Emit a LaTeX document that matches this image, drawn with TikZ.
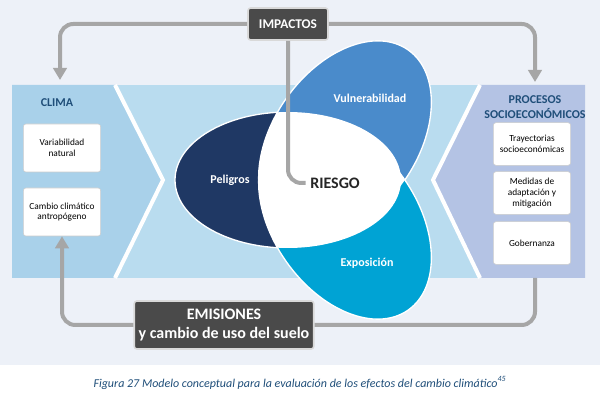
\documentclass[tikz,border=0pt]{standalone}
\usepackage{fontspec}
\setmainfont{Carlito}
\usetikzlibrary{arrows.meta}

\begin{document}
\begin{tikzpicture}[x=0.75pt,y=0.75pt,
    smallbox/.style={fill=white,draw=gray!40,rounded corners=2pt,minimum width=58pt,
        align=center,font=\scriptsize,inner sep=2pt},
    darkbox/.style={fill=dark_gray,draw=gray!30,line width=1.2pt,rounded corners=2pt,
        text=white,font=\bfseries,align=center},
    flow/.style={draw=line_gray,line width=3pt,rounded corners=10pt},
    petal/.style={draw=white,line width=1pt}]
    \definecolor{bg_blue}{HTML}{EDF1F8}
    \definecolor{clima_blue}{HTML}{A9D1EA}
    \definecolor{mid_blue}{HTML}{B9DCEF}
    \definecolor{socio_blue}{HTML}{B4C3E4}
    \definecolor{navy}{HTML}{1F3864}
    \definecolor{vul_blue}{HTML}{4A8BCB}
    \definecolor{exp_cyan}{HTML}{00A3D4}
    \definecolor{dark_gray}{HTML}{4A4A4A}
    \definecolor{line_gray}{HTML}{A6A6A6}
    \definecolor{title_blue}{HTML}{1F4E79}
    \useasboundingbox (0,0) rectangle (600,407);
    %\draw[help lines] (0,0) grid (600,407);
    \path[fill=white] (0,0) rectangle (600,407);
    \path[fill=bg_blue] (0,42) rectangle (600,407);
    % bands
    \path[fill=mid_blue] (12,129) rectangle (585,322);
    \path[fill=clima_blue] (12,129) -- (115,129) -- (163,227) -- (115,322) -- (12,322) -- cycle;
    \path[fill=socio_blue] (585,129) -- (480,129) -- (433,227) -- (480,322) -- (585,322) -- cycle;
    \draw[white,line width=3pt] (115,322) -- (163,227) -- (115,129);
    \draw[white,line width=3pt] (480,322) -- (433,227) -- (480,129);
    % petals
    \path[petal,fill=navy] (288,227) ellipse [x radius=113,y radius=68];
    \path[petal,fill=vul_blue] (345,267) ellipse [x radius=110,y radius=72,rotate=55];
    \path[petal,fill=exp_cyan] (345,187) ellipse [x radius=110,y radius=72,rotate=-55];
    \begin{scope}
        \clip (288,227) ellipse [x radius=113,y radius=68];
        \fill[white] (345,267) ellipse [x radius=110,y radius=72,rotate=55];
        \fill[white] (345,187) ellipse [x radius=110,y radius=72,rotate=-55];
    \end{scope}
    \begin{scope}
        \clip (345,267) ellipse [x radius=110,y radius=72,rotate=55];
        \fill[white] (345,187) ellipse [x radius=110,y radius=72,rotate=-55];
    \end{scope}
    \node[text=white,font=\bfseries\small] (peligros) at (230,227) {Peligros};
    \node[text=white,font=\bfseries\small] (vulner) at (370,309) {Vulnerabilidad};
    \node[text=white,font=\bfseries\small] (expos) at (367,144) {Exposición};
    \node[font=\bfseries\large,text=black!85] (riesgo) at (335,224) {RIESGO};
    % side panels
    \node[text=title_blue,font=\bfseries\small] (clima) at (57,304) {CLIMA};
    \node[smallbox,minimum height=36pt] (varnat) at (62,259) {Variabilidad\\natural};
    \node[smallbox,minimum height=36pt] (cambio) at (62,195) {Cambio climático\\antropógeno};
    \node[text=title_blue,font=\bfseries\small,align=center] (procesos) at (535,300) {PROCESOS\\SOCIOECONÓMICOS};
    \node[smallbox,minimum height=32pt] (trayect) at (532,263) {Trayectorias\\socioeconómicas};
    \node[smallbox,minimum height=32pt] (medidas) at (532,214) {Medidas de\\adaptación y\\mitigación};
    \node[smallbox,minimum height=32pt] (gobern) at (532,164) {Gobernanza};
    % top and bottom
    \node[darkbox,minimum width=60pt,minimum height=24pt] (impactos) at (288,383) {IMPACTOS};
    \node[darkbox,minimum width=128pt,minimum height=36pt,font=\bfseries\large] (emisiones) at (224,82) {EMISIONES\\y cambio de uso del suelo};
    \coordinate (climatop) at (60,327);
    \coordinate (sociotop) at (535,325);
    \coordinate (sociobot) at (535,129);
    \draw[flow,-{Triangle[length=9pt,width=10pt]}] (impactos.west) -| (climatop);
    \draw[flow,-{Triangle[length=9pt,width=10pt]}] (impactos.east) -| (sociotop);
    \draw[flow] (impactos.south) |- (riesgo.west);
    \draw[flow,-{Triangle[length=9pt,width=10pt]}] (emisiones.west) -| (cambio.south);
    \draw[flow] (emisiones.east) -| (sociobot);
    \node[text=title_blue,font=\small\itshape] (caption) at (300,24)
        {Figura 27 Modelo conceptual para la evaluación de los efectos del cambio climático\textsuperscript{45}};
\end{tikzpicture}
\end{document}
